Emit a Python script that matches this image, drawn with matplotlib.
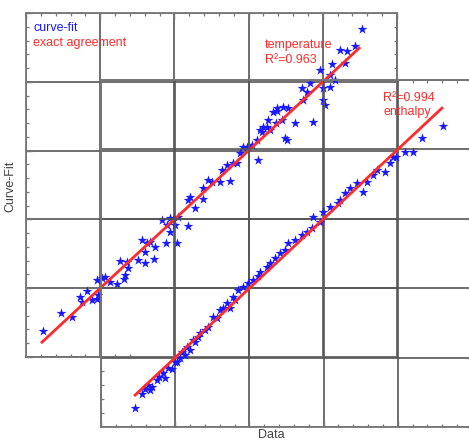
import matplotlib
matplotlib.use("Agg")
import matplotlib.pyplot as plt
from matplotlib.ticker import MultipleLocator, FixedLocator, NullLocator

plt.rcParams['font.family'] = ['Liberation Sans', 'DejaVu Sans']

# Temperature: data vs curve-fit (normalised 0-100 scale)
temp_data = [4.6, 9.4, 12.4, 14.6, 15.1, 16.4, 17.8, 19.1, 19.4, 19.1, 20.5, 21.3, 22.6, 24.5,
             26.4, 26.7, 25.3, 27.2, 27.5, 30.2, 32.1, 34.5, 31.3, 32.6, 33.4, 32.1, 34.8, 37.7,
             40.7, 36.7, 38.0, 38.8, 39.6, 41.0, 38.8, 40.2, 43.7, 43.7, 44.2, 45.5, 47.7, 47.7,
             49.0, 50.1, 52.3, 55.0, 52.8, 54.2, 55.8, 57.7, 59.6, 60.9, 62.5, 62.3, 63.1, 64.9,
             65.8, 67.4, 67.6, 69.8, 70.3, 63.6, 63.9, 65.2, 69.0, 72.5, 77.3, 66.6, 67.6, 69.3,
             70.6, 74.7, 80.0, 80.6, 74.4, 75.7, 76.5, 80.0, 81.9, 79.2, 83.3, 81.9, 82.5, 86.0,
             84.6, 86.5, 88.7, 90.6, 56.9, 58.5]
temp_fit = [7.6, 12.8, 11.6, 17.4, 16.0, 19.2, 16.6, 16.9, 18.0, 22.4, 23.0, 23.3, 21.8, 21.2,
            22.7, 23.8, 27.9, 27.6, 25.9, 28.2, 27.3, 28.5, 34.0, 33.1, 33.4, 30.5, 32.0, 33.1,
            33.1, 39.8, 38.4, 36.3, 39.8, 40.7, 40.4, 38.4, 38.1, 45.6, 46.5, 43.3, 45.9, 49.1,
            51.5, 50.9, 50.9, 51.2, 54.4, 55.8, 56.4, 59.3, 61.0, 61.6, 57.3, 63.1, 66.0, 66.9,
            66.0, 68.0, 71.5, 63.7, 63.1, 65.4, 66.9, 68.9, 68.9, 68.0, 68.3, 71.2, 72.4, 72.7,
            72.4, 74.7, 74.7, 73.3, 78.2, 77.0, 79.7, 78.2, 78.5, 83.4, 80.5, 82.0, 85.2, 85.5,
            89.2, 89.0, 90.4, 95.3, 56.4, 61.0]

# Enthalpy: data vs curve-fit (normalised 0-100 scale)
enth_data = [9.2, 11.0, 13.2, 12.7, 13.7, 15.1, 15.6, 16.7, 18.1, 19.1, 20.5, 21.3, 22.6, 24.0,
             25.3, 26.1, 21.8, 23.2, 24.8, 26.7, 28.8, 30.2, 32.1, 34.0, 35.6, 36.9, 34.8, 36.1,
             38.3, 39.6, 41.0, 44.7, 45.5, 48.2, 49.6, 50.4, 54.2, 55.5, 56.9, 59.0, 57.1, 59.8,
             61.7, 64.4, 63.9, 65.8, 67.1, 69.0, 70.6, 71.7, 73.3, 74.4, 76.5, 77.9, 78.7, 81.9,
             84.1, 86.5, 92.2, 79.5, 19.9, 17.2, 11.9, 28.0, 31.3, 32.9, 42.9, 46.9, 52.3, 42.3]
enth_fit = [5.5, 9.5, 10.7, 12.1, 11.5, 13.5, 14.4, 15.6, 17.0, 16.7, 18.7, 19.9, 20.8, 22.2,
            24.5, 25.9, 21.6, 23.1, 25.1, 27.1, 28.8, 31.7, 33.7, 35.7, 37.5, 39.5, 34.3, 36.6,
            40.3, 41.5, 42.4, 46.1, 47.3, 50.1, 51.0, 53.0, 55.3, 56.2, 57.4, 59.1, 60.5, 62.0,
            63.4, 65.4, 64.6, 67.4, 68.9, 70.3, 67.7, 70.6, 72.6, 74.1, 73.5, 76.1, 77.8, 79.3,
            79.3, 83.3, 86.7, 77.8, 18.7, 14.1, 11.0, 28.0, 31.4, 34.3, 44.7, 48.7, 53.9, 43.5]

# Exact-agreement line extents
temp_line = [4.3, 89.8]
enth_line = [9.2, 91.9]

temp_r2 = "0.963"
enth_r2 = "0.994"

# Minor ticks on the sides where the two panels overlap are only drawn
# on the part of the edge that lies outside the other panel.
temp_bottom_ticks = [4, 8, 12, 16, 24, 28]
temp_right_ticks = [84, 88, 92, 96]
enth_left_ticks = [4, 8, 12, 16]
enth_top_ticks = [84, 88, 92, 96]

W, H = 469, 442
fig = plt.figure(figsize=(W / 100, H / 100), dpi=100)
fig.patch.set_facecolor('white')

frame_col = '#777777'
grid_col = '#555555'
star_col = '#1a1aff'
line_col = '#ff2a2a'


def px_rect(x0, y0, x1, y1):
    return [x0 / W, 1 - y1 / H, (x1 - x0) / W, (y1 - y0) / H]


def style(ax, hide_x, hide_y):
    ax.set_xlim(0, 100)
    ax.set_ylim(0, 100)
    ax.xaxis.set_major_locator(MultipleLocator(20))
    ax.yaxis.set_major_locator(MultipleLocator(20))
    ax.xaxis.set_minor_locator(MultipleLocator(4))
    ax.yaxis.set_minor_locator(MultipleLocator(4))
    kw = {'bottom': True, 'top': True, 'left': True, 'right': True}
    kw[hide_x] = False
    kw[hide_y] = False
    ax.tick_params(which='both', direction='in', labelbottom=False, labelleft=False,
                   color=frame_col, **kw)
    ax.tick_params(which='major', length=4, width=1.0)
    ax.tick_params(which='minor', length=2.5, width=0.9)
    ax.grid(True, which='major', color=grid_col, lw=1.2, ls='-')
    ax.set_axisbelow(True)
    for s in ax.spines.values():
        s.set_color(frame_col)
        s.set_linewidth(1.3)


def partial_ticks(ax, side, ticks):
    if side in ('left', 'right'):
        sec = ax.secondary_yaxis(side)
        axis = sec.yaxis
    else:
        sec = ax.secondary_xaxis(side)
        axis = sec.xaxis
    axis.set_major_locator(FixedLocator(ticks))
    axis.set_minor_locator(NullLocator())
    sec.tick_params(direction='in', length=2.5, width=0.9, color=frame_col,
                    labelleft=False, labelright=False, labeltop=False, labelbottom=False)
    for s in sec.spines.values():
        s.set_color(frame_col)
        s.set_linewidth(1.3)


ax_t = fig.add_axes(px_rect(26, 13, 397, 357))
ax_e = fig.add_axes(px_rect(101, 80, 472, 427))
ax_e.patch.set_visible(False)
style(ax_t, 'bottom', 'right')
style(ax_e, 'top', 'left')
partial_ticks(ax_t, 'bottom', temp_bottom_ticks)
partial_ticks(ax_t, 'right', temp_right_ticks)
partial_ticks(ax_e, 'left', enth_left_ticks)
partial_ticks(ax_e, 'top', enth_top_ticks)

ax_t.scatter(temp_data, temp_fit, marker='*', s=55, color=star_col, lw=0, zorder=3)
ax_t.plot(temp_line, temp_line, color=line_col, lw=2.0, zorder=4)

ax_e.scatter(enth_data, enth_fit, marker='*', s=55, color=star_col, lw=0, zorder=3)
ax_e.plot(enth_line, enth_line, color=line_col, lw=2.0, zorder=4)

fs = 9
def ftext(x, y, s, **kw):
    fig.text(x / W, 1 - y / H, s, fontsize=fs, va='center', **kw)

ftext(33, 28, "curve-fit", color=star_col)
ftext(33, 43, "exact agreement", color=line_col)
ftext(265, 45, "temperature", color=line_col)
ftext(265, 60, "R\u00b2=" + temp_r2, color=line_col)
ftext(383, 98, "R\u00b2=" + enth_r2, color=line_col)
ftext(383, 112, "enthalpy", color=line_col)
ftext(10, 186, "Curve-Fit", color='#404040', rotation=90, ha='center')
ftext(271, 435, "Data", color='#404040', ha='center')

fig.savefig("out.png", dpi=100, facecolor='white')
